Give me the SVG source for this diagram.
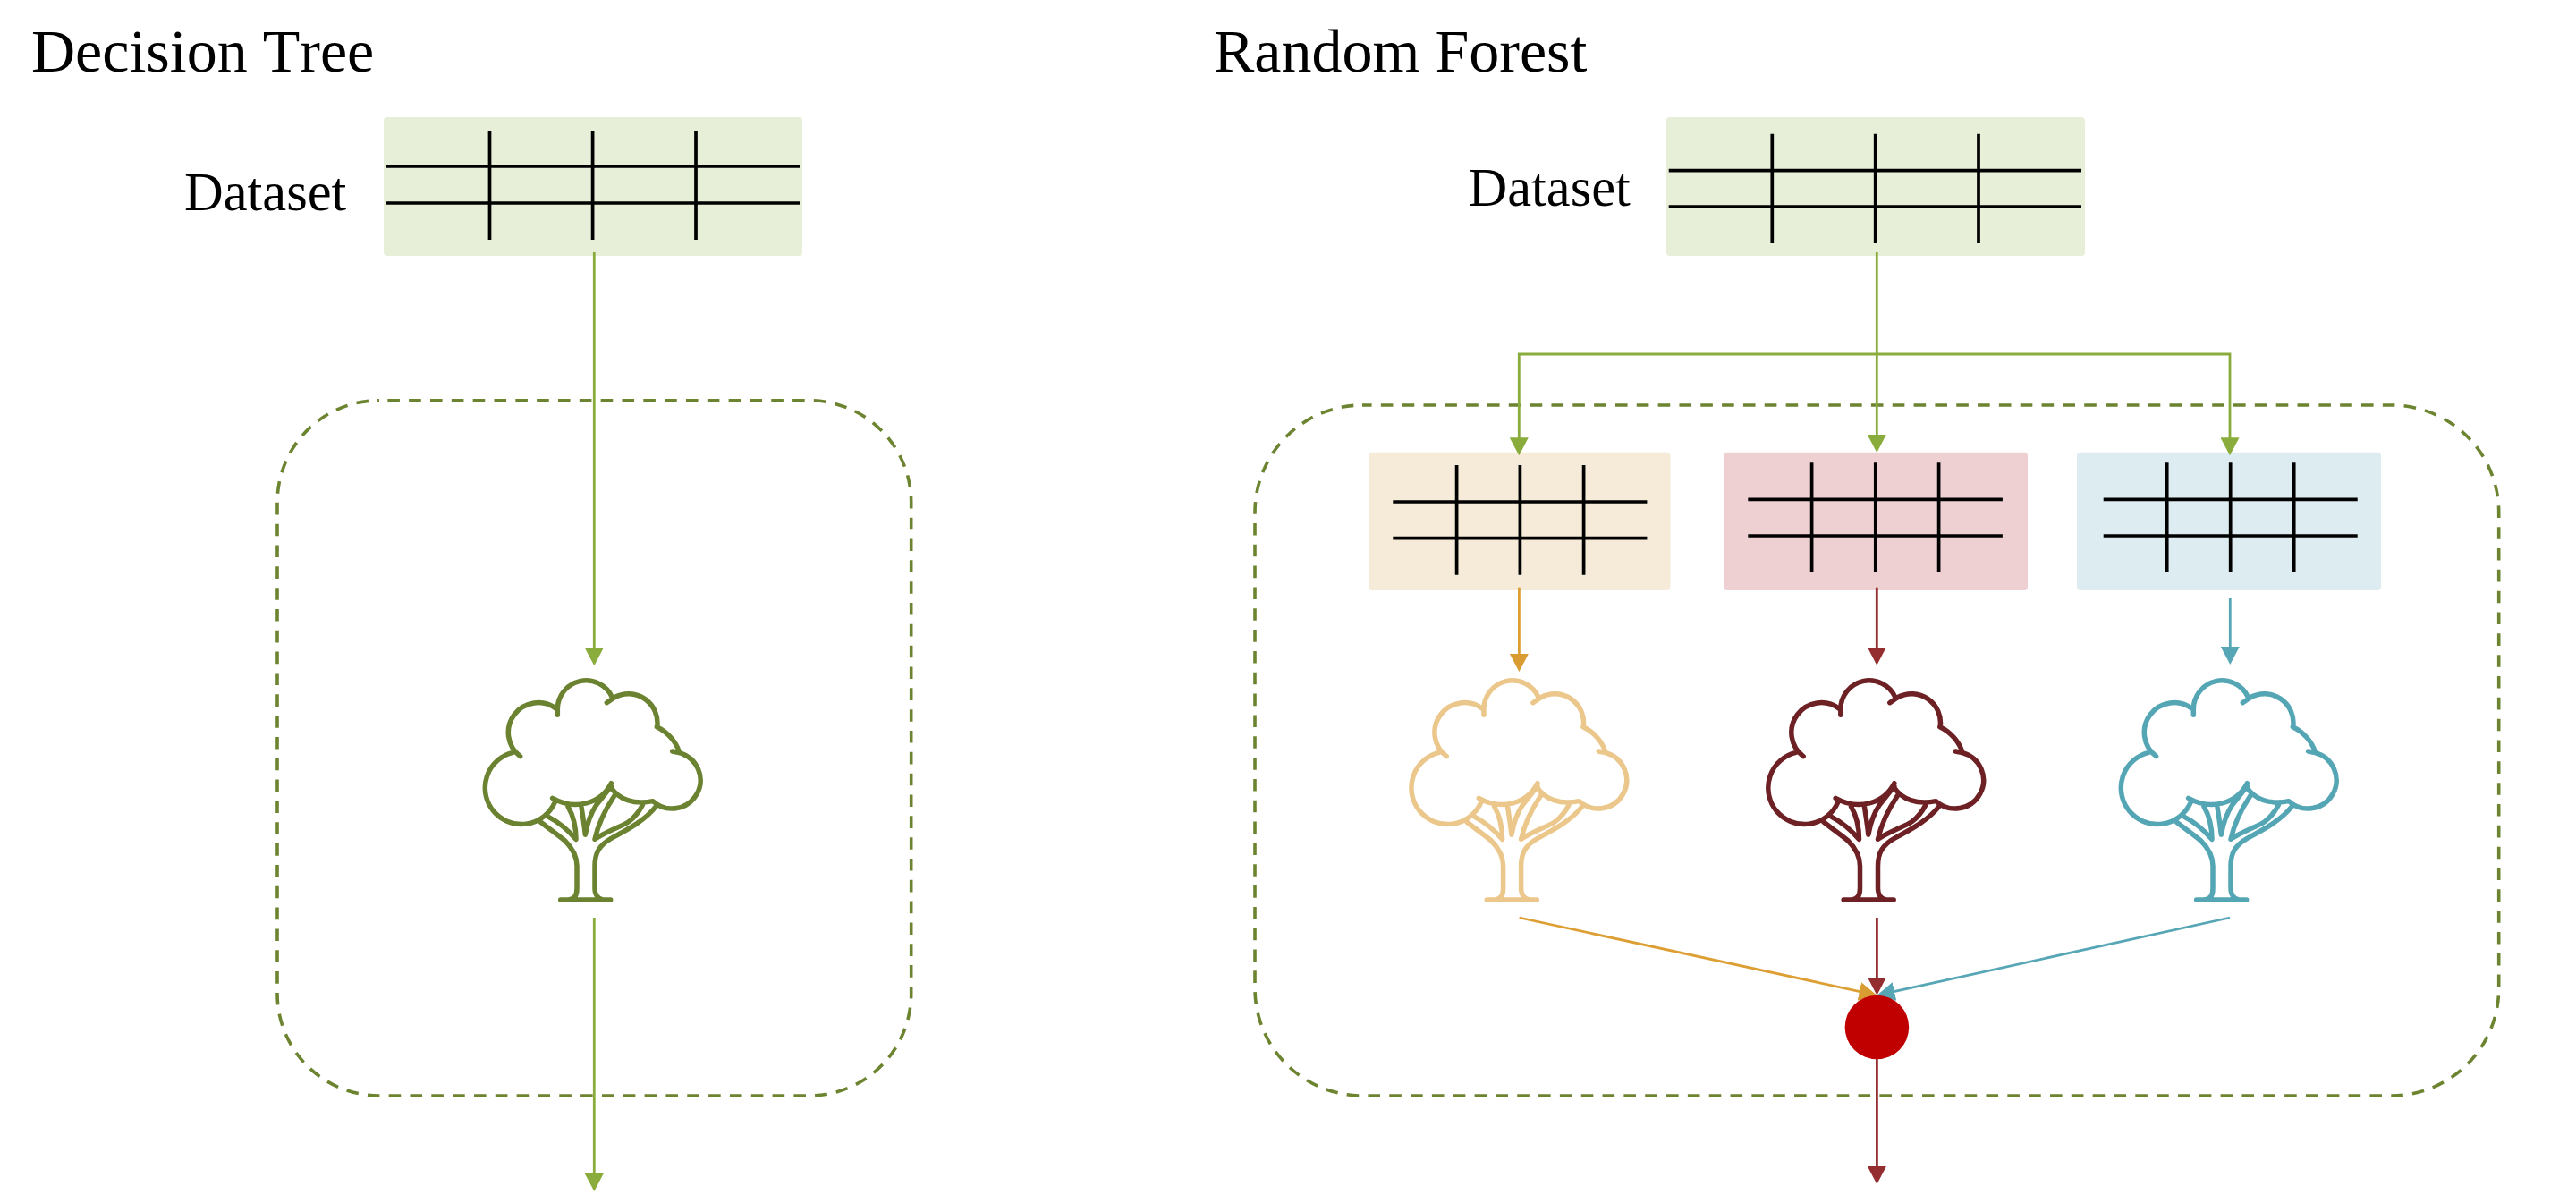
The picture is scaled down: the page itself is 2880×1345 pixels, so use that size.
<svg xmlns="http://www.w3.org/2000/svg" width="2880" height="1345" viewBox="0 0 2880 1345">
<style>
text{font-family:"Liberation Serif","Times New Roman",serif;fill:#000}
.title{font-size:68px}
.label{font-size:60.5px}
.grid{stroke:#000;stroke-width:3.7;fill:none}
.dash{fill:none;stroke:#6C832F;stroke-width:3.6;stroke-dasharray:13.6 10.23}
.c{fill:none;stroke-width:2.8}
.green{stroke:#8AAC3C;marker-end:url(#mGreen)}
.orange{stroke:#DD9F33;marker-end:url(#mOrange)}
.red{stroke:#932D2F;marker-end:url(#mRed)}
.teal{stroke:#56A6B6;marker-end:url(#mTeal)}
.treeShape{fill:none;stroke:currentColor;stroke-width:16.5;stroke-linecap:round;stroke-linejoin:round}
</style>
<defs>
<marker id="mGreen" markerUnits="userSpaceOnUse" markerWidth="20" markerHeight="21" refX="10" refY="10.5" orient="auto"><path d="M0 0L20 10.5L0 21Z" fill="#8AAC3C"/></marker>
<marker id="mOrange" markerUnits="userSpaceOnUse" markerWidth="20" markerHeight="21" refX="10" refY="10.5" orient="auto"><path d="M0 0L20 10.5L0 21Z" fill="#D99C32"/></marker>
<marker id="mRed" markerUnits="userSpaceOnUse" markerWidth="20" markerHeight="21" refX="10" refY="10.5" orient="auto"><path d="M0 0L20 10.5L0 21Z" fill="#932D2F"/></marker>
<marker id="mTeal" markerUnits="userSpaceOnUse" markerWidth="20" markerHeight="21" refX="10" refY="10.5" orient="auto"><path d="M0 0L20 10.5L0 21Z" fill="#56A6B6"/></marker>
<g id="tree" transform="scale(0.33333)">
<path class="treeShape" d="M245 347A97 97 0 1 1 365 187M370 208L370 190A96 96 0 0 1 553 148M535 167L560 150A97 97 0 0 1 704 248M703 248C740 265 768 300 778 332M755 330L778 335A95 95 0 1 1 690 497C625 510 575 490 550 452M550 437C515 505 430 530 353 487M360 503A122 122 0 1 1 220 334M313 567C345 592 370 610 395 630C420 655 435 680 435 715V790C435 815 425 828 405 828M380 828H548M522 828C505 825 495 810 495 790V715C495 670 510 645 550 622C610 590 665 560 700 515M340 550C375 568 410 600 432 625C432 590 425 550 405 515M450 517C455 550 460 580 463 610C470 570 480 540 500 510L550 447M560 480C530 525 505 580 495 625C530 600 590 580 610 565C630 550 645 530 655 510"/>
</g>
</defs>

<g id="boxes">
<g id="dt-scope"><rect class="dash" x="310" y="447.7" width="708.7" height="777.3" rx="114" ry="114" stroke-dashoffset="14.5"/></g>
<g id="rf-scope"><rect class="dash" x="1403" y="453" width="1390.7" height="772" rx="120" ry="120" stroke-dashoffset="3"/></g>
<g id="dt-dataset">
<rect x="429" y="131" width="468" height="155" rx="4" fill="#E7EFD9"/>
<path class="grid" d="M432 186H894M432 227H894M547.5 146V268M662.6 146V268M778 146V268"/>
</g>
<g id="rf-dataset">
<rect x="1863" y="131" width="468" height="155" rx="4" fill="#E7EFD9"/>
<path class="grid" d="M1865.7 190.7H2327M1865.7 231H2327M1981.3 149.7V272M2096.7 149.7V272M2212 149.7V272"/>
</g>
<g id="sample-1">
<rect x="1530" y="505.7" width="337.5" height="154.3" rx="4" fill="#F5EBD8"/>
<path class="grid" d="M1557.3 561H1841.4M1557.3 601.7H1841.4M1628.6 520V642.7M1699.4 520V642.7M1770.6 520V642.7"/>
</g>
<g id="sample-2">
<rect x="1927" y="505.7" width="340" height="154.3" rx="4" fill="#EFD0D2"/>
<path class="grid" d="M1954.3 558.3H2238.9M1954.3 599H2238.9M2025.6 517.3V640M2096.8 517.3V640M2167.6 517.3V640"/>
</g>
<g id="sample-3">
<rect x="2322" y="505.7" width="340" height="154.3" rx="4" fill="#DDECF0"/>
<path class="grid" d="M2351.7 558.3H2635.7M2351.7 599H2635.7M2422.7 517.3V640M2493.7 517.3V640M2564.7 517.3V640"/>
</g>
</g>

<g id="connectors">
<path class="c green" d="M664.3 282V734.3"/>
<path class="c green" d="M664.3 1026V1322"/>
<path class="c green" d="M2098.3 282V496"/>
<path class="c green" d="M2098.3 396H1698.3V499.3"/>
<path class="c green" d="M2098.3 396H2493V499.3"/>
<path class="c orange" d="M1698.4 656.7V741"/>
<path class="c red" d="M2098.3 656.7V733.7"/>
<path class="c teal" d="M2493.3 669V733"/>
<path class="c orange" d="M1698.6 1026L2088.6 1110.6"/>
<path class="c red" d="M2098.4 1026V1102.7"/>
<path class="c teal" d="M2493 1026L2108.2 1110.6"/>
<path class="c red" d="M2098.4 1182V1314"/>
</g>

<g id="dt-title"><text class="title" x="35" y="80" style="font-kerning:none">Decision Tree</text></g>
<g id="rf-title"><text class="title" x="1357" y="80">Random Forest</text></g>
<g id="dt-label"><text class="label" x="206" y="235">Dataset</text></g>
<g id="rf-label"><text class="label" x="1641.5" y="230">Dataset</text></g>

<g id="dt-tree" style="color:#6B8230"><use href="#tree" transform="translate(500 730)"/></g>
<g id="rf-tree-1" style="color:#EBC78C"><use href="#tree" transform="translate(1535.6 730)"/></g>
<g id="rf-tree-2" style="color:#6D2124"><use href="#tree" transform="translate(1934.5 730)"/></g>
<g id="rf-tree-3" style="color:#55A6B5"><use href="#tree" transform="translate(2329 730)"/></g>
<g id="vote"><circle cx="2098.4" cy="1148.5" r="35.8" fill="#C00000"/></g>
</svg>
